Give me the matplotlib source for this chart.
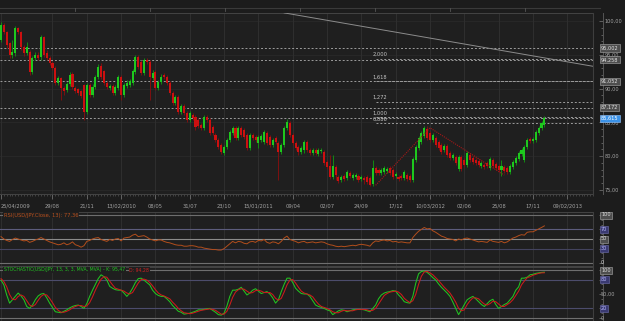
import numpy as np
import matplotlib
matplotlib.use("Agg")
import matplotlib.pyplot as plt
from matplotlib.transforms import blended_transform_factory
from matplotlib.lines import Line2D

plt.rcParams['font.family'] = ['DejaVu Sans']

# ---------------- data (weekly USD/JPY) ----------------
start_date = "2009-04-25"

opens = [97.2, 99.4, 98.4, 96.7, 95.0, 95.3, 99.0, 98.4, 96.2, 95.3,
         95.4, 92.5, 94.5, 95.0, 94.7, 97.6, 95.3, 94.5, 93.8, 93.0,
         90.8, 91.6, 90.1, 89.8, 90.7, 92.2, 90.1, 89.9, 89.6, 90.5,
         86.5, 90.5, 89.1, 90.2, 91.7, 93.3, 92.6, 90.8, 90.1, 90.4,
         89.4, 90.1, 91.7, 89.1, 90.4, 90.5, 90.8, 92.5, 94.7, 93.9,
         92.3, 94.2, 93.9, 91.6, 92.5, 90.1, 91.0, 92.0, 91.7, 90.8,
         89.4, 87.9, 88.8, 86.5, 87.4, 86.4, 85.4, 86.1, 85.8, 85.4,
         84.6, 84.2, 85.8, 85.4, 84.3, 83.1, 82.4, 81.7, 80.5, 81.4,
         82.4, 83.4, 84.2, 82.7, 84.2, 83.9, 83.1, 81.2, 83.1, 82.8,
         81.9, 82.4, 82.1, 83.4, 82.8, 81.7, 82.7, 82.0, 80.6, 81.7,
         84.2, 84.9, 83.1, 82.0, 81.4, 80.6, 80.9, 82.1, 80.9, 80.5,
         80.9, 80.3, 80.8, 80.6, 79.1, 78.5, 76.9, 78.4, 76.9, 76.5,
         77.1, 76.8, 77.5, 76.8, 76.9, 77.1, 76.6, 76.8, 76.9, 76.8,
         75.9, 78.3, 77.9, 77.5, 77.7, 77.8, 78.3, 77.9, 77.1, 76.9,
         77.1, 76.8, 77.2, 77.1, 76.5, 79.4, 81.2, 82.1, 83.0, 84.0,
         83.4, 82.4, 82.7, 82.1, 81.7, 80.9, 81.5, 80.5, 79.7, 79.9,
         78.1, 79.9, 79.4, 78.7, 80.2, 79.7, 79.4, 79.3, 78.5, 78.7,
         79.0, 78.3, 79.4, 78.8, 78.5, 77.9, 78.4, 78.3, 77.7, 78.4,
         79.0, 79.6, 80.3, 79.4, 81.4, 82.5, 82.3, 82.4, 83.4, 84.2,
         84.6]

closes = [99.4, 98.4, 96.5, 95.0, 95.4, 99.0, 98.4, 96.2, 95.3, 96.2,
          92.5, 94.5, 95.0, 94.5, 97.6, 95.0, 94.5, 93.8, 93.0, 90.8,
          91.6, 90.1, 89.7, 90.7, 92.0, 90.2, 89.6, 89.4, 88.9, 86.5,
          90.5, 89.1, 90.2, 91.7, 93.2, 91.7, 90.8, 90.2, 90.4, 89.4,
          90.2, 91.7, 89.1, 90.5, 90.8, 91.1, 92.6, 94.7, 93.2, 92.3,
          94.2, 93.9, 91.7, 92.3, 90.1, 91.0, 91.7, 91.7, 90.8, 89.4,
          87.9, 88.8, 86.5, 87.4, 86.4, 85.4, 86.4, 85.7, 84.3, 84.5,
          84.2, 85.8, 85.4, 83.4, 83.4, 82.4, 81.4, 80.6, 81.4, 82.4,
          83.6, 84.2, 82.7, 84.2, 83.1, 82.8, 81.2, 83.1, 82.7, 82.4,
          82.8, 83.0, 83.6, 82.0, 81.7, 82.4, 82.1, 80.6, 81.7, 84.2,
          85.1, 83.1, 82.0, 81.2, 80.6, 81.2, 82.1, 80.9, 80.5, 80.9,
          80.5, 80.9, 80.9, 79.0, 78.4, 76.9, 78.5, 77.2, 76.3, 76.9,
          76.6, 77.7, 77.1, 77.2, 77.2, 76.5, 76.9, 76.5, 76.2, 75.7,
          78.3, 77.5, 77.5, 77.9, 78.3, 78.1, 77.5, 76.9, 77.4, 76.6,
          76.8, 77.7, 76.6, 76.5, 79.6, 81.4, 82.7, 83.4, 84.2, 82.7,
          82.4, 83.1, 81.7, 81.2, 80.6, 81.5, 80.2, 79.7, 80.2, 79.0,
          79.9, 78.1, 78.7, 80.5, 79.4, 79.1, 79.0, 78.7, 79.0, 78.4,
          78.5, 79.6, 78.5, 78.3, 77.9, 78.5, 77.8, 77.7, 78.5, 79.1,
          79.7, 80.5, 80.9, 81.4, 82.4, 82.3, 82.5, 83.6, 84.2, 84.9,
          85.615]

highs = [99.9, 99.7, 98.5, 96.9, 97.2, 99.3, 99.1, 98.5, 96.5, 96.9,
         95.7, 94.8, 95.4, 95.4, 97.9, 97.8, 95.7, 94.8, 94.1, 93.3,
         91.9, 91.7, 90.4, 91.0, 92.5, 92.5, 90.4, 90.1, 89.8, 90.7,
         90.8, 90.8, 90.7, 92.0, 93.6, 93.8, 92.8, 91.1, 90.7, 90.7,
         90.5, 92.0, 92.0, 90.8, 91.3, 91.4, 92.9, 95.0, 95.0, 94.2,
         94.5, 94.5, 94.2, 92.8, 92.8, 91.3, 92.2, 92.3, 92.0, 91.1,
         89.7, 89.1, 89.1, 87.7, 87.7, 86.7, 86.7, 86.4, 86.1, 85.7,
         84.9, 86.1, 86.1, 85.7, 84.6, 83.4, 82.7, 82.0, 81.7, 82.7,
         83.9, 84.5, 84.5, 84.5, 84.5, 84.2, 83.4, 83.4, 83.4, 83.1,
         83.1, 83.3, 83.9, 83.7, 83.1, 82.7, 83.0, 82.3, 82.0, 84.5,
         85.5, 85.2, 83.4, 82.3, 81.7, 81.5, 82.4, 82.4, 81.2, 81.2,
         81.2, 81.2, 81.2, 80.9, 79.4, 80.2, 80.2, 78.7, 77.2, 77.2,
         77.4, 78.0, 77.8, 77.5, 77.5, 77.4, 77.2, 77.1, 77.2, 77.1,
         79.4, 78.6, 78.3, 78.3, 78.6, 78.4, 78.6, 78.3, 77.7, 77.2,
         77.4, 78.0, 77.5, 77.4, 79.9, 81.7, 83.0, 83.7, 84.5, 84.5,
         83.7, 83.4, 83.0, 82.4, 82.0, 81.8, 81.8, 80.8, 80.5, 80.2,
         80.2, 80.2, 79.7, 80.8, 80.5, 80.0, 79.7, 79.6, 79.3, 79.0,
         79.3, 79.9, 79.7, 79.1, 78.8, 79.4, 78.7, 78.6, 78.8, 79.4,
         80.0, 80.8, 81.2, 81.7, 82.7, 82.8, 82.8, 83.9, 84.5, 85.2,
         85.9]

lows = [96.9, 98.1, 96.0, 94.5, 94.5, 94.8, 98.1, 95.7, 94.8, 95.0,
        92.0, 92.2, 94.2, 94.2, 94.2, 94.7, 94.2, 93.5, 92.8, 90.5,
        90.5, 88.3, 89.1, 89.5, 90.4, 90.0, 89.4, 89.1, 88.6, 85.4,
        86.2, 88.8, 88.8, 89.9, 91.4, 91.4, 90.5, 89.9, 89.8, 89.1,
        89.1, 89.8, 88.3, 88.8, 90.1, 90.2, 90.5, 92.2, 92.9, 92.0,
        92.0, 93.6, 88.3, 91.3, 89.8, 89.8, 90.7, 91.4, 90.5, 89.1,
        87.6, 87.6, 86.2, 86.2, 86.1, 85.1, 85.1, 85.4, 83.9, 84.2,
        83.9, 83.9, 85.1, 83.1, 83.1, 82.1, 81.1, 80.3, 80.2, 81.1,
        82.1, 83.1, 82.4, 82.4, 82.8, 82.5, 80.9, 80.9, 82.4, 82.1,
        81.2, 82.1, 81.8, 81.7, 81.4, 81.4, 81.8, 76.5, 80.3, 81.4,
        83.9, 82.8, 81.7, 80.9, 80.2, 80.3, 80.5, 80.6, 80.2, 80.2,
        80.2, 80.0, 80.5, 78.7, 78.1, 76.6, 76.6, 76.5, 76.0, 76.2,
        76.3, 76.5, 76.8, 76.5, 76.6, 76.2, 76.3, 75.9, 75.9, 75.6,
        75.6, 77.2, 77.2, 77.2, 77.4, 77.5, 77.2, 76.6, 76.8, 76.3,
        76.5, 76.5, 76.3, 76.2, 76.2, 79.1, 80.9, 81.8, 82.7, 82.4,
        82.1, 82.1, 81.4, 80.9, 80.3, 80.6, 79.9, 79.4, 79.4, 78.7,
        77.8, 77.8, 78.4, 78.4, 79.1, 78.8, 78.7, 78.4, 78.3, 78.1,
        78.3, 77.9, 78.3, 77.9, 77.7, 77.1, 77.5, 77.4, 77.4, 78.1,
        78.7, 79.3, 80.0, 79.1, 81.1, 82.0, 82.0, 82.1, 83.1, 83.9,
        84.3]

rsi_values = [55, 50, 47, 45, 49, 52, 50, 48, 46, 47,
              43, 45, 48, 50, 53, 50, 47, 44, 42, 40,
              38, 39, 42, 38, 40, 44, 38, 36, 33, 36,
              45, 47, 50, 52, 53, 49, 47, 45, 49, 47,
              50, 51, 46, 52, 53, 54, 58, 60, 55, 56,
              57, 54, 50, 48, 46, 48, 48, 45, 43, 42,
              40, 38, 37, 37, 35, 35, 36, 36, 35, 33,
              33, 31, 30, 29, 28, 28, 27, 27, 30, 35,
              40, 45, 42, 45, 44, 41, 40, 44, 45, 43,
              47, 46, 49, 43, 41, 44, 43, 40, 45, 52,
              56, 49, 47, 45, 42, 44, 45, 42, 43, 44,
              42, 43, 44, 43, 40, 38, 37, 35, 34, 35,
              34, 35, 36, 37, 36, 38, 39, 38, 37, 35,
              42, 46, 45, 47, 48, 46, 47, 44, 45, 43,
              44, 43, 42, 42, 53, 60, 66, 70, 74, 71,
              72, 67, 64, 60, 56, 54, 51, 50, 49, 46,
              50, 48, 51, 52, 50, 48, 46, 44, 45, 44,
              43, 48, 45, 44, 43, 45, 42, 44, 48, 52,
              54, 57, 59, 58, 64, 65, 65, 68, 71, 74,
              77.36]

stoch_k = [79, 69, 48, 31, 38, 45, 52, 46, 38, 24,
           20, 27, 38, 46, 50, 51, 42, 31, 22, 13,
           12, 11, 14, 17, 21, 24, 26, 27, 24, 20,
           30, 45, 58, 70, 82, 90, 86, 79, 66, 62,
           59, 58, 58, 52, 45, 52, 62, 74, 82, 83,
           79, 74, 69, 58, 51, 47, 45, 45, 40, 34,
           26, 20, 14, 12, 8, 9, 10, 12, 14, 17,
           17, 18, 19, 20, 16, 12, 7, 6, 10, 25,
           45, 58, 58, 60, 64, 56, 48, 52, 58, 61,
           56, 51, 53, 55, 50, 42, 31, 38, 55, 70,
           83, 83, 74, 62, 56, 51, 50, 50, 45, 36,
           27, 24, 22, 20, 17, 15, 7, 11, 15, 17,
           16, 13, 15, 17, 18, 18, 18, 17, 15, 13,
           20, 27, 40, 48, 52, 54, 55, 57, 56, 48,
           42, 34, 32, 31, 45, 72, 92, 97, 98, 95,
           90, 84, 79, 71, 64, 58, 52, 45, 33, 20,
           7, 17, 28, 38, 42, 45, 40, 34, 28, 24,
           30, 36, 39, 28, 20, 24, 28, 31, 38, 45,
           58, 65, 83, 83, 85, 90, 91, 93, 94, 95,
           95.47]

stoch_d = [82, 76, 65, 49, 39, 38, 45, 48, 45, 36,
           27, 24, 28, 37, 45, 49, 48, 41, 32, 22,
           16, 12, 12, 14, 17, 21, 24, 26, 26, 24,
           25, 32, 44, 58, 70, 81, 86, 85, 77, 69,
           62, 60, 58, 56, 52, 50, 53, 63, 73, 80,
           81, 79, 74, 67, 59, 52, 48, 46, 43, 40,
           33, 27, 20, 15, 11, 10, 9, 10, 12, 14,
           16, 17, 18, 19, 18, 16, 12, 8, 8, 14,
           27, 43, 54, 59, 61, 60, 56, 52, 53, 57,
           58, 56, 53, 53, 53, 49, 41, 37, 41, 54,
           69, 79, 80, 73, 64, 56, 52, 50, 48, 44,
           36, 29, 24, 22, 20, 17, 13, 11, 11, 14,
           16, 15, 15, 15, 17, 18, 18, 18, 17, 15,
           16, 20, 29, 38, 47, 51, 54, 55, 56, 54,
           49, 41, 36, 32, 36, 49, 70, 87, 96, 97,
           94, 90, 84, 78, 71, 64, 58, 52, 43, 33,
           20, 15, 17, 28, 36, 42, 42, 40, 34, 29,
           27, 30, 35, 34, 29, 24, 24, 28, 32, 38,
           47, 56, 69, 77, 84, 86, 89, 91, 93, 94,
           94.28]

date_ticks = ["2009-04-25", "2009-08-29", "2009-11-21", "2010-02-13", "2010-05-08",
              "2010-07-31", "2010-10-23", "2011-01-15", "2011-04-09", "2011-07-02",
              "2011-09-24", "2011-12-17", "2012-03-10", "2012-06-02", "2012-08-25",
              "2012-11-17", "2013-02-09"]
date_labels = ["25/04/2009", "29/08", "21/11", "13/02/2010", "08/05", "31/07", "23/10",
               "15/01/2011", "09/04", "02/07", "24/09", "17/12", "10/03/2012", "02/06",
               "25/08", "17/11", "09/02/2013"]

price_ticks = [75, 80, 85, 90, 95, 100]
level_prices = [96.0, 94.258, 91.052, 87.172, 85.615]
level_labels = ["95,002", "94,258", "91,052", "87,172", "85,615"]
fib_prices = [94.43, 91.05, 88.09, 85.75, 84.88]
fib_labels = ["2,000", "1,618", "1,272", "1,000", "0,886"]
zigzag_dates = ["2011-10-29", "2012-03-10", "2012-09-08"]
zigzag_prices = [75.7, 84.2, 77.2]
trend_dates = ["2011-03-19", "2013-04-13"]
trend_prices = [101.2, 93.3]
rsi_levels = [100, 70, 50, 30, 0]
rsi_level_labels = ["100", "70", "50", "30", "0"]
stoch_levels = [100, 80, 20, 0]
stoch_axis_labels = ["100", "80", "50,00", "20", "0"]
stoch_axis_values = [100, 80, 50, 20, 0]

# ---------------- styling ----------------
FIG_BG = '#1c1c1c'
PANEL = '#1f1f1f'
GRID = '#2e2e2e'
UP, UP_WICK = '#1ec81e', '#128a12'
DN, DN_WICK = '#cc1010', '#7e1010'
TXT = '#a4a4a4'
W, H = 625, 321


def rect(x0, y0, x1, y1):
    return [x0 / W, 1 - y1 / H, (x1 - x0) / W, (y1 - y0) / H]


def week_of(d):
    return (np.datetime64(d) - np.datetime64(start_date)).astype(int) / 7.0


fig = plt.figure(figsize=(W / 100, H / 100), dpi=100, facecolor=FIG_BG)
ax = fig.add_axes(rect(0, 13, 593, 194))
ax_rsi = fig.add_axes(rect(0, 212, 593, 266))
ax_sto = fig.add_axes(rect(0, 267, 593, 321))

XLIM = (-0.35, 207.0)
tick_pos = [week_of(d) for d in date_ticks]

for a in (ax, ax_rsi, ax_sto):
    a.set_facecolor(PANEL)
    a.set_xlim(*XLIM)
    for s in a.spines.values():
        s.set_color('#444444')
        s.set_linewidth(0.7)
    a.spines['left'].set_visible(False)
    a.spines['right'].set_position(('outward', 7))
    a.spines['right'].set_color('#555555')
    a.plot([1, 1], [0, 1], transform=a.transAxes, color='#3e3e3e', lw=0.8, clip_on=False, zorder=5)
    a.set_xticks(tick_pos)
    a.grid(axis='x', which='major', color=GRID, lw=0.8)
    a.set_axisbelow(True)
    a.yaxis.tick_right()
    a.tick_params(axis='y', which='both', direction='in', colors='#7a7a7a', labelcolor=TXT,
                  labelsize=3.6, pad=1.2, width=0.5)
    a.tick_params(axis='y', which='major', length=3)
    a.tick_params(axis='y', which='minor', length=1.5)

# ---------------- main price panel ----------------
ax.set_ylim(74.41, 101.18)
ax.set_yticks(price_ticks)
ax.set_yticklabels([f"{v:.2f}".replace('.', ',') for v in price_ticks])
ax.set_yticks(np.arange(75, 101, 1), minor=True)
for p in price_ticks:
    ax.axhline(p, color='#282828', lw=0.7, zorder=0)

ax.set_xticklabels(date_labels)
ax.set_xticks(np.arange(0, 208, 1), minor=True)
ax.tick_params(axis='x', which='major', length=3.5, width=0.5, colors='#808080',
               labelcolor=TXT, labelsize=3.7, pad=3.6)
ax.tick_params(axis='x', which='minor', length=1.6, width=0.4, colors='#606060')
ax.get_xticklabels()[0].set_ha('left')

x = np.arange(len(closes))
o, c, h, l = map(np.array, (opens, closes, highs, lows))
up = c >= o
ax.vlines(x[up], l[up], h[up], color=UP_WICK, lw=0.7, zorder=2)
ax.vlines(x[~up], l[~up], h[~up], color=DN_WICK, lw=0.7, zorder=2)
ax.bar(x[up], np.maximum(c - o, 0.1)[up], bottom=o[up], width=0.72, color=UP, lw=0, zorder=3)
ax.bar(x[~up], np.maximum(o - c, 0.1)[~up], bottom=c[~up], width=0.72, color=DN, lw=0, zorder=3)

dash = (0, (2, 2))
for p in level_prices:
    ax.axhline(p, color='#9c9c9c', lw=0.7, ls=dash, zorder=1)

zz_x = [week_of(d) for d in zigzag_dates]
ax.hlines(fib_prices, zz_x[0], XLIM[1], color='#9c9c9c', lw=0.7, ls=dash, zorder=1)
for p, lab in zip(fib_prices, fib_labels):
    ax.text(zz_x[0] - 1.0, p + 0.22, lab, fontsize=3.7, color='#c4c4c4', ha='left', va='bottom', zorder=4)

ax.plot(zz_x, zigzag_prices, color='#a51818', lw=0.8, ls=(0, (1, 1)), zorder=4)
ax.plot([week_of(d) for d in trend_dates], trend_prices, color='#8c8c8c', lw=0.7, zorder=4)

tr = blended_transform_factory(ax.transAxes, ax.transData)
lx = 601 / 593
for p, lab in zip(level_prices, level_labels):
    last = lab == level_labels[-1]
    ax.text(lx, p, lab, transform=tr, fontsize=3.6,
            color='white' if last else '#e4e4e4', ha='left', va='center', clip_on=False, zorder=8,
            bbox=dict(boxstyle='square,pad=0.22', fc='#3a92e8' if last else '#4e4e4e',
                      ec='#9ccaff' if last else '#aaaaaa', lw=0.4))

# ---------------- RSI panel ----------------
ax_rsi.set_ylim(-6.25, 106.25)
ax_rsi.set_xticklabels([])
ax_rsi.tick_params(axis='x', length=0)
ax_rsi.set_yticks(rsi_levels)
ax_rsi.set_yticklabels([])
ax_rsi.set_yticks(np.arange(0, 101, 10), minor=True)
rsi_colors = ['#6e6e6e', '#5c5c7c', '#8a8a8a', '#43435e', '#6e6e6e']
for v, col in zip(rsi_levels, rsi_colors):
    ax_rsi.axhline(v, color=col, lw=0.8, zorder=1)
ax_rsi.plot(np.arange(len(rsi_values)), rsi_values, color='#b24e1c', lw=0.7, zorder=3)
trr = blended_transform_factory(ax_rsi.transAxes, ax_rsi.transData)
ax_rsi.text(4 / 593, 100, "RSI(USD/JPY.Close, 13): " + f"{rsi_values[-1]:.2f}".replace('.', ','),
            transform=trr, fontsize=3.7, color='#b8501e', ha='left', va='center', zorder=6,
            bbox=dict(boxstyle='square,pad=0.15', fc=PANEL, ec='none'))

box_gray = dict(boxstyle='square,pad=0.2', fc='#4e4e4e', ec='#aaaaaa', lw=0.4)
box_blue = dict(boxstyle='square,pad=0.2', fc='#3a3a72', ec='#7070b0', lw=0.4)
rsi_boxes = [box_gray, box_blue, box_gray, box_blue, None]
for v, lab, bx in zip(rsi_levels, rsi_level_labels, rsi_boxes):
    ax_rsi.text(lx, v, lab, transform=trr, fontsize=3.6,
                color='#b8b8ff' if bx is box_blue else '#dcdcdc', ha='left', va='center',
                clip_on=False, zorder=8, bbox=bx)

# ---------------- Stochastic panel ----------------
ax_sto.set_ylim(-6.25, 106.25)
ax_sto.set_xticklabels([])
ax_sto.tick_params(axis='x', length=0)
ax_sto.set_yticks(stoch_axis_values)
ax_sto.set_yticklabels([])
ax_sto.set_yticks(np.arange(0, 101, 10), minor=True)
sto_colors = ['#6e6e6e', '#4c4c6c', '#4c4c6c', '#6e6e6e']
for v, col in zip(stoch_levels, sto_colors):
    ax_sto.axhline(v, color=col, lw=0.8, zorder=1)
ax_sto.plot(np.arange(len(stoch_k)), stoch_k, color='#22c422', lw=0.75, zorder=3)
ax_sto.plot(np.arange(len(stoch_d)), stoch_d, color='#cc1c1c', lw=0.75, zorder=3)

trs = blended_transform_factory(ax_sto.transAxes, ax_sto.transData)
t1 = ax_sto.text(4 / 593, 100,
                 "STOCHASTIC(USD/JPY, 13, 3, 3, MVA, MVA) - K: " + f"{stoch_k[-1]:.2f}".replace('.', ','),
                 transform=trs, fontsize=3.3, color='#22c422', ha='left', va='center', zorder=6,
                 bbox=dict(boxstyle='square,pad=0.15', fc=PANEL, ec='none'))
sto_boxes = [box_gray, box_blue, None, box_blue, None]
for v, lab, bx in zip(stoch_axis_values, stoch_axis_labels, sto_boxes):
    ax_sto.text(lx, v, lab, transform=trs, fontsize=3.6,
                color='#b8b8ff' if bx is box_blue else ('#dcdcdc' if bx else TXT),
                ha='left', va='center', clip_on=False, zorder=8, bbox=bx)

fig.canvas.draw()
bb = t1.get_window_extent()
inv = ax_sto.transAxes.inverted()
x_after = inv.transform((bb.x1 + 4, bb.y0))[0]
ax_sto.text(x_after, 100, "D: " + f"{stoch_d[-1]:.2f}".replace('.', ','), transform=trs,
            fontsize=3.3, color='#d02020', ha='left', va='center', zorder=6,
            bbox=dict(boxstyle='square,pad=0.15', fc=PANEL, ec='none'))

# ---------------- top strip ----------------
fig.add_artist(Line2D([0, 600 / W], [1 - 8 / H] * 2, color='#3a3a3a', lw=0.8))
for px in range(75, 600, 75):
    fig.add_artist(Line2D([px / W] * 2, [1 - 8 / H, 1 - 10.5 / H], color='#555555', lw=0.6))

fig.savefig("out.png", dpi=100, facecolor=FIG_BG)
